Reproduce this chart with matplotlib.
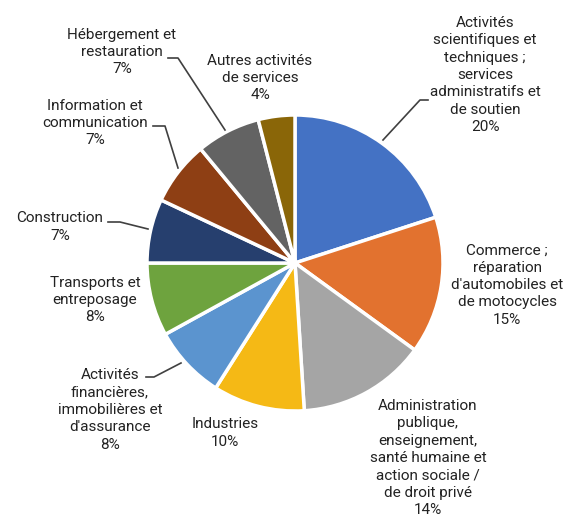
import matplotlib
matplotlib.use("Agg")
import matplotlib.pyplot as plt
from matplotlib import font_manager

sectors = [
    "Activités\nscientifiques et\ntechniques ;\nservices\nadministratifs et\nde soutien",
    "Commerce ;\nréparation\nd'automobiles et\nde motocycles",
    "Administration\npublique,\nenseignement,\nsanté humaine et\naction sociale /\nde droit privé",
    "Industries",
    "Activités\nfinancières,\nimmobilières et\nd'assurance",
    "Transports et\nentreposage",
    "Construction",
    "Information et\ncommunication",
    "Hébergement et\nrestauration",
    "Autres activités\nde services",
]
shares = [20, 15, 14, 10, 8, 8, 7, 7, 7, 4]
colors = ["#4472C4", "#E2722F", "#A5A5A5", "#F5B915", "#5B94CF",
          "#6EA33E", "#263F6E", "#8E3F14", "#636363", "#8A6608"]

# label centres (pixels, y from top)
label_pos = [(485, 75), (507, 285), (428, 458), (225, 433), (110, 410),
             (95, 300), (60, 227), (95, 123), (122, 52), (260, 78)]

# leader lines (pixels, y from top)
leaders = [
    [(428, 100), (420, 100), (383, 140)],
    [(146, 377), (154, 377), (181, 363)],
    [(108, 222), (120, 222), (148, 229)],
    [(153, 126), (165, 126), (178, 168)],
    [(168, 58), (178, 58), (225, 130)],
]

H = 525
fam = ["Roboto", "DejaVu Sans"]

fig = plt.figure(figsize=(5.75, 5.25), dpi=100)
ax = fig.add_axes([0, 0, 1, 1])
ax.set_xlim(0, 575)
ax.set_ylim(0, H)
ax.set_aspect("equal")
ax.axis("off")

ax.pie(shares, colors=colors, startangle=90, counterclock=False,
       center=(295, H - 263), radius=148,
       wedgeprops=dict(edgecolor="white", linewidth=2.5))

for name, val, (x, y) in zip(sectors, shares, label_pos):
    ax.text(x, H - y, f"{name}\n{val}%", ha="center", va="center",
            fontsize=11, family=fam, color="#222222", linespacing=1.3)

for pts in leaders:
    xs = [p[0] for p in pts]
    ys = [H - p[1] for p in pts]
    ax.plot(xs, ys, color="#404040", lw=1.2)

ax.set_xlim(0, 575)
ax.set_ylim(0, H)
fig.savefig("out.png", dpi=100)
